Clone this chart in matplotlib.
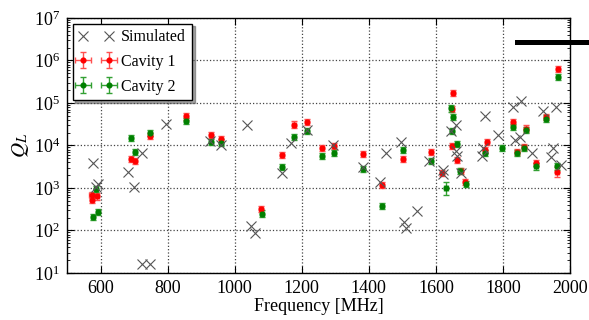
import matplotlib
matplotlib.use("Agg")
import matplotlib.pyplot as plt
from matplotlib.lines import Line2D
import numpy as np

plt.rcParams['font.family'] = ['Liberation Serif', 'DejaVu Serif']
plt.rcParams['mathtext.fontset'] = 'stix'

# simulated modes
sim_freq = [576, 585, 591, 683, 700, 725, 794, 725, 746, 926, 958, 1038, 1048, 1062,
            1140, 1167, 1216, 1293, 1384, 1434, 1452, 1496, 1504, 1512, 1545, 1579,
            1620, 1622, 1645, 1660, 1661, 1663, 1674, 1736, 1739, 1746, 1786, 1829,
            1836, 1851, 1853, 1887, 1918, 1944, 1950, 1958, 1972]
sim_q = [3900, 1050, 1220, 2420, 1050, 6500, 31600, 16, 16, 13000, 10000, 31000, 130, 89,
         2300, 11700, 23000, 10000, 3100, 1350, 6600, 11800, 155, 112, 290, 4300,
         2600, 2100, 22000, 7400, 30000, 5500, 2300, 5500, 8500, 49000, 17700, 80000,
         13500, 15500, 112000, 6600, 66000, 5400, 8500, 80000, 3500]

# measured, cavity 1
c1_freq = [573, 574, 589, 690, 703, 746, 856, 928, 959, 1079, 1142, 1177, 1216, 1261,
           1297, 1384, 1440, 1502, 1586, 1617, 1647, 1651, 1647, 1664, 1674, 1688, 1745,
           1751, 1829, 1841, 1862, 1868, 1898, 1928, 1960, 1965]
c1_q = [680, 520, 630, 4900, 4300, 17000, 48000, 17700, 14500, 320, 6000, 31000, 35000,
        8700, 9900, 6300, 1160, 4900, 7100, 2300, 9500, 170000, 72000, 4600, 2450, 1400,
        8000, 12000, 35000, 7000, 9300, 25000, 3800, 46000, 2400, 630000]
c1_err = [1.18, 1.18, 1.18, 1.18, 1.18, 1.18, 1.18, 1.18, 1.18, 1.18, 1.18, 1.18, 1.18,
          1.18, 1.18, 1.18, 1.18, 1.18, 1.18, 1.18, 1.18, 1.18, 1.18, 1.18, 1.18, 1.18,
          1.18, 1.18, 1.18, 1.18, 1.18, 1.18, 1.18, 1.18, 1.3, 1.18]

# measured, cavity 2
c2_freq = [577, 592, 586, 690, 703, 746, 856, 928, 959, 1080, 1142, 1177, 1216, 1261,
           1297, 1384, 1439, 1502, 1586, 1630, 1645, 1650, 1648, 1663, 1673, 1689, 1747,
           1798, 1829, 1841, 1862, 1868, 1898, 1928, 1960, 1965]
c2_q = [210, 275, 950, 15000, 6900, 19500, 38000, 12000, 11700, 250, 3100, 16000, 22000,
        5600, 6600, 2750, 380, 7900, 4400, 980, 74000, 46000, 22000, 11000, 2550, 1260,
        6600, 8500, 27600, 6600, 8700, 23000, 3200, 43000, 3200, 400000]
c2_err = [1.18, 1.18, 1.18, 1.18, 1.18, 1.18, 1.18, 1.18, 1.18, 1.18, 1.18, 1.18, 1.18,
          1.18, 1.18, 1.18, 1.18, 1.18, 1.18, 1.4, 1.18, 1.18, 1.18, 1.18, 1.18, 1.18,
          1.18, 1.18, 1.18, 1.18, 1.18, 1.18, 1.18, 1.18, 1.22, 1.18]

freq_err = 6  # MHz


def log_err(q, fac):
    q = np.asarray(q, float)
    fac = np.asarray(fac, float)
    return [q - q / fac, q * fac - q]


fig = plt.figure(figsize=(5.89, 3.2), dpi=100)
ax = fig.add_axes([0.1138, 0.147, 0.854, 0.797])

ax.plot(sim_freq, sim_q, 'x', color='#555555', ms=7, mew=0.8, label='Simulated', zorder=4)
ax.errorbar(c1_freq, c1_q, xerr=freq_err, yerr=log_err(c1_q, c1_err), fmt='o',
            color='#ff0000', ecolor='#ff5050', ms=3.4, elinewidth=1.0, capsize=2,
            label='Cavity 1', zorder=3)
ax.errorbar(c2_freq, c2_q, xerr=freq_err, yerr=log_err(c2_q, c2_err), fmt='o',
            color='#008000', ecolor='#33a033', ms=3.4, elinewidth=1.0, capsize=2,
            label='Cavity 2', zorder=3)

ax.set_yscale('log')
ax.set_xlim(500, 2000)
ax.set_ylim(10, 1e7)
ax.set_xticks(range(600, 2001, 200))
ax.grid(True, which='major', linestyle=':', color='#444444', linewidth=0.9)
ax.tick_params(which='both', direction='in', top=True, right=True, labelsize=13)
ax.tick_params(which='major', length=5, pad=5)
ax.tick_params(which='minor', length=2.5)
for s in ax.spines.values():
    s.set_linewidth(1.0)

ax.set_xlabel('Frequency [MHz]', fontsize=13, labelpad=1)
ax.set_ylabel('$Q_L$', fontsize=15, labelpad=2)

leg = ax.legend(loc='upper left', numpoints=2, fontsize=11.5, fancybox=False, shadow=True,
                edgecolor='black', framealpha=1, borderpad=0.35, labelspacing=0.55,
                handlelength=2.2, handletextpad=0.5, borderaxespad=0.35)
leg.get_frame().set_linewidth(1.0)

# black bar at top right
fig.add_artist(Line2D([0.878, 1.0], [0.869, 0.869], transform=fig.transFigure,
                      color='black', linewidth=3.6))

fig.savefig('out.png', dpi=100)
